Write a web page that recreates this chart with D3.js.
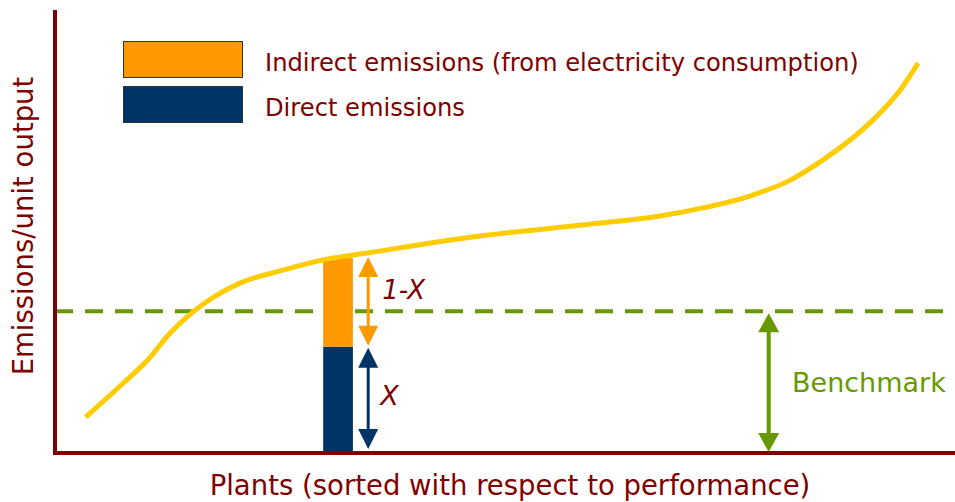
<!DOCTYPE html>
<html>
<head>
<meta charset="utf-8">
<script src="https://cdn.jsdelivr.net/npm/d3@7"></script>
<style>
  html, body { margin: 0; padding: 0; background: #fff; }
  svg { display: block; }
  text { font-family: Verdana, "DejaVu Sans", sans-serif; }
</style>
</head>
<body>
<svg id="chart" width="955" height="502"></svg>
<script>
// ---- data (abstract units: plant rank 0-100, emissions 0-100) ----
const plantRank = [3.4, 7.6, 10.3, 12.8, 15.3, 17.8, 20.6, 25.0, 29.8, 33.9, 47.2, 60.6, 67.2, 72.4, 77.2, 81.7, 85.3, 90.9, 93.9, 95.9];
const emissions = [8.1, 15.8, 21.0, 27.1, 31.8, 35.4, 38.4, 41.1, 43.6, 44.9, 49.0, 51.9, 53.5, 55.5, 58.0, 61.6, 66.1, 75.2, 81.9, 88.0];
const benchmark = 32;
const examplePlant = [29.8, 33.1];          // rank range of the highlighted plant
const directEmissions = 24;
const indirectEmissions = 20;
const legendLabels = ["Indirect emissions (from electricity consumption)", "Direct emissions"];
const axisLabels = { x: "Plants (sorted with respect to performance)", y: "Emissions/unit output" };

// ---- styling ----
const C = {
  axis: "#800000", text: "#800000", curve: "#FFCC00", bench: "#669900",
  indirect: "#FF9900", direct: "#003366"
};

const svg = d3.select("#chart");
const x = d3.scaleLinear().domain([0, 100]).range([55, 955]);
const y = d3.scaleLinear().domain([0, 100]).range([453, 10]);

// benchmark dashed line
svg.append("line")
  .attr("x1", x(0)).attr("x2", x(98.9))
  .attr("y1", y(benchmark)).attr("y2", y(benchmark))
  .attr("stroke", C.bench).attr("stroke-width", 4)
  .attr("stroke-dasharray", "18,12");

// stacked bar
const barData = [
  { key: "direct", y0: 0, y1: directEmissions, color: C.direct },
  { key: "indirect", y0: directEmissions, y1: directEmissions + indirectEmissions, color: C.indirect }
];
svg.selectAll("rect.bar").data(barData).join("rect")
  .attr("class", "bar")
  .attr("x", x(examplePlant[0]))
  .attr("width", x(examplePlant[1]) - x(examplePlant[0]))
  .attr("y", d => y(d.y1))
  .attr("height", d => y(d.y0) - y(d.y1))
  .attr("fill", d => d.color);

// curve
const pts = plantRank.map((r, i) => [r, emissions[i]]);
svg.append("path")
  .datum(pts)
  .attr("fill", "none")
  .attr("stroke", C.curve)
  .attr("stroke-width", 5)
  .attr("d", d3.line().x(d => x(d[0])).y(d => y(d[1])).curve(d3.curveMonotoneX));

// axes
const xAxis = svg.append("g").attr("transform", `translate(0,${y(0)})`)
  .call(d3.axisBottom(x).ticks(0).tickSizeOuter(0));
const yAxis = svg.append("g").attr("transform", `translate(${x(0)},0)`)
  .call(d3.axisLeft(y).ticks(0).tickSizeOuter(0));
[xAxis, yAxis].forEach(g => g.select(".domain")
  .attr("stroke", C.axis).attr("stroke-width", 4));
xAxis.select(".domain").attr("d", `M${x(0) - 2},0H${x(100)}`);
yAxis.select(".domain").attr("d", `M0,${y(0) + 2}V${y(100)}`);

// double arrow helper
function dblArrow(cx, yTop, yBot, color, shaftW, headW, headH) {
  const g = svg.append("g");
  g.append("line").attr("x1", cx).attr("x2", cx)
    .attr("y1", yTop + headH - 1).attr("y2", yBot - headH + 1)
    .attr("stroke", color).attr("stroke-width", shaftW);
  g.append("path").attr("fill", color)
    .attr("d", `M${cx},${yTop}L${cx + headW / 2},${yTop + headH}L${cx - headW / 2},${yTop + headH}Z`);
  g.append("path").attr("fill", color)
    .attr("d", `M${cx},${yBot}L${cx + headW / 2},${yBot - headH}L${cx - headW / 2},${yBot - headH}Z`);
}
const arrowX = x(34.8);
dblArrow(arrowX, y(directEmissions + indirectEmissions) - 1, y(directEmissions) - 1, C.indirect, 3, 20, 20);
dblArrow(arrowX, y(directEmissions) + 1, y(0) - 4, C.direct, 3, 20, 20);
dblArrow(x(79.3), y(benchmark) + 2, y(0) - 1, C.bench, 4, 21, 19);

// annotation texts
svg.append("text").attr("x", arrowX + 14).attr("y", 299)
  .attr("fill", C.text).attr("font-size", 26).attr("font-style", "italic").text("1-X");
svg.append("text").attr("x", arrowX + 12).attr("y", 405)
  .attr("fill", C.text).attr("font-size", 27).attr("font-style", "italic").text("X");
svg.append("text").attr("x", 792).attr("y", 392)
  .attr("fill", C.bench).attr("font-size", 27).text("Benchmark");

// legend
const legendColors = [C.indirect, C.direct];
const legendY = [41, 86];
legendLabels.forEach((lab, i) => {
  svg.append("rect").attr("x", 123.5).attr("y", legendY[i] + 0.5)
    .attr("width", 119).attr("height", 36)
    .attr("fill", legendColors[i]).attr("stroke", "#333").attr("stroke-width", 1);
  svg.append("text").attr("x", 265).attr("y", legendY[i] + 30)
    .attr("fill", C.text).attr("font-size", 24.2).text(lab);
});

// axis titles
svg.append("text").attr("x", 510).attr("y", 495).attr("text-anchor", "middle")
  .attr("fill", C.text).attr("font-size", 27.5).text(axisLabels.x);
svg.append("text").attr("transform", "translate(33,226) rotate(-90)")
  .attr("text-anchor", "middle")
  .attr("fill", C.text).attr("font-size", 27.5).text(axisLabels.y);
</script>
</body>
</html>
